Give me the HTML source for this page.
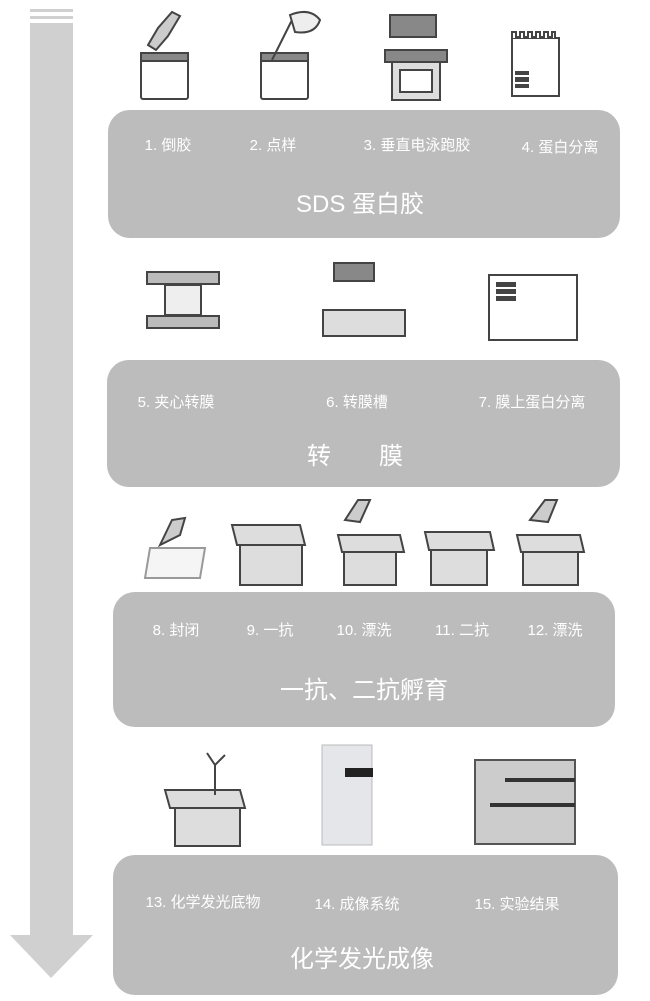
<!DOCTYPE html>
<html><head><meta charset="utf-8"><style>
body{margin:0;width:650px;height:1001px;background:#fff;position:relative;overflow:hidden;font-family:"Liberation Sans","Noto Sans CJK SC",sans-serif}
.p{position:absolute;background:#bcbcbc;border-radius:22px}
.t{position:absolute;color:#fff;font-size:15px;white-space:nowrap;transform:translateX(-50%)}
.h{position:absolute;color:#fff;font-size:24px;white-space:nowrap;transform:translateX(-50%)}
svg{position:absolute;left:0;top:0}
</style></head><body>
<svg width="650" height="1001">
<rect x="30" y="9" width="43" height="3" fill="#d0d0d0"/>
<rect x="30" y="16" width="43" height="3" fill="#d0d0d0"/>
<rect x="30" y="23" width="43" height="913" fill="#d0d0d0"/>
<polygon points="10,935 93,935 51,978" fill="#d0d0d0"/>
<g stroke="#444" stroke-width="2" fill="#fff">
<!-- row1 -->
<rect x="141" y="53" width="47" height="46" rx="2"/><rect x="141" y="53" width="47" height="8" fill="#888"/>
<polygon points="148,45 158,28 172,12 180,16 168,36 156,50" fill="#ccc"/>
<rect x="261" y="53" width="47" height="46" rx="2"/><rect x="261" y="53" width="47" height="8" fill="#888"/>
<path d="M272,60 L292,20" /><path d="M290,15 q20,-8 30,5 q-5,15 -25,12z" fill="#eee"/>
<rect x="390" y="15" width="46" height="22" fill="#888"/><rect x="385" y="50" width="62" height="12" fill="#888"/>
<rect x="392" y="62" width="48" height="38" fill="#ddd"/><rect x="400" y="70" width="32" height="22"/>
<rect x="512" y="38" width="47" height="58"/><path d="M512,38 v-6 h4 v5 h4 v-5 h4 v5 h4 v-5 h4 v5 h4 v-5 h4 v5 h4 v-5 h4 v5 h4 v-5 h3 v6"/>
<!-- row2 -->
<rect x="147" y="272" width="72" height="12" fill="#bbb"/><rect x="165" y="285" width="36" height="30" fill="#eee"/><rect x="147" y="316" width="72" height="12" fill="#bbb"/>
<rect x="334" y="263" width="40" height="18" fill="#888"/><rect x="323" y="310" width="82" height="26" fill="#ddd"/>
<rect x="489" y="275" width="88" height="65"/>
<g fill="#444"><rect x="497" y="283" width="18" height="3"/><rect x="497" y="290" width="18" height="3"/><rect x="497" y="297" width="18" height="3"/><rect x="516" y="72" width="12" height="2"/><rect x="516" y="78" width="12" height="3"/><rect x="516" y="85" width="12" height="2"/></g>
<!-- row3 -->
<polygon points="145,578 200,578 205,548 150,548" fill="#f5f5f5" stroke="#999"/>
<polygon points="160,545 172,520 185,518 180,535" fill="#ccc"/>
<g fill="#ddd">
<polygon points="232,525 300,525 305,545 237,545"/><rect x="240" y="545" width="62" height="40"/>
<polygon points="338,535 400,535 404,552 342,552"/><rect x="344" y="552" width="52" height="33"/>
<polygon points="425,532 490,532 494,550 429,550"/><rect x="431" y="550" width="56" height="35"/>
<polygon points="517,535 580,535 584,552 521,552"/><rect x="523" y="552" width="55" height="33"/>
</g>
<polygon points="345,520 358,500 370,500 360,522" fill="#ccc"/>
<polygon points="530,520 545,500 557,500 548,522" fill="#ccc"/>
<!-- row4 -->
<polygon points="165,790 240,790 245,808 170,808" fill="#ddd"/><rect x="175" y="808" width="65" height="38" fill="#ddd"/>
<path d="M215,795 v-30 l-8,-12 M215,765 l10,-10" fill="none"/>
</g>
<rect x="322" y="745" width="50" height="100" fill="#e4e6ea" stroke="#bbb"/>
<rect x="345" y="768" width="28" height="9" fill="#222"/>
<rect x="475" y="760" width="100" height="84" fill="#ccc" stroke="#555" stroke-width="2"/>
<g fill="#333"><rect x="505" y="778" width="70" height="4"/><rect x="490" y="803" width="85" height="4"/></g>
</svg>
<div class="p" style="left:108px;top:110px;width:512px;height:128px"></div>
<div class="t" style="left:168px;top:134px">1. 倒胶</div>
<div class="t" style="left:273px;top:134px">2. 点样</div>
<div class="t" style="left:417px;top:134px">3. 垂直电泳跑胶</div>
<div class="t" style="left:560px;top:136px">4. 蛋白分离</div>
<div class="h" style="left:360px;top:184px">SDS 蛋白胶</div>
<div class="p" style="left:107px;top:360px;width:513px;height:127px"></div>
<div class="t" style="left:176px;top:391px">5. 夹心转膜</div>
<div class="t" style="left:357px;top:391px">6. 转膜槽</div>
<div class="t" style="left:532px;top:391px">7. 膜上蛋白分离</div>
<div class="h" style="left:355px;top:436px">转　　膜</div>
<div class="p" style="left:113px;top:592px;width:502px;height:135px"></div>
<div class="t" style="left:176px;top:619px">8. 封闭</div>
<div class="t" style="left:270px;top:619px">9. 一抗</div>
<div class="t" style="left:364px;top:619px">10. 漂洗</div>
<div class="t" style="left:462px;top:619px">11. 二抗</div>
<div class="t" style="left:555px;top:619px">12. 漂洗</div>
<div class="h" style="left:364px;top:670px">一抗、二抗孵育</div>
<div class="p" style="left:113px;top:855px;width:505px;height:140px"></div>
<div class="t" style="left:203px;top:891px">13. 化学发光底物</div>
<div class="t" style="left:357px;top:893px">14. 成像系统</div>
<div class="t" style="left:517px;top:893px">15. 实验结果</div>
<div class="h" style="left:362px;top:939px">化学发光成像</div>
</body></html>
